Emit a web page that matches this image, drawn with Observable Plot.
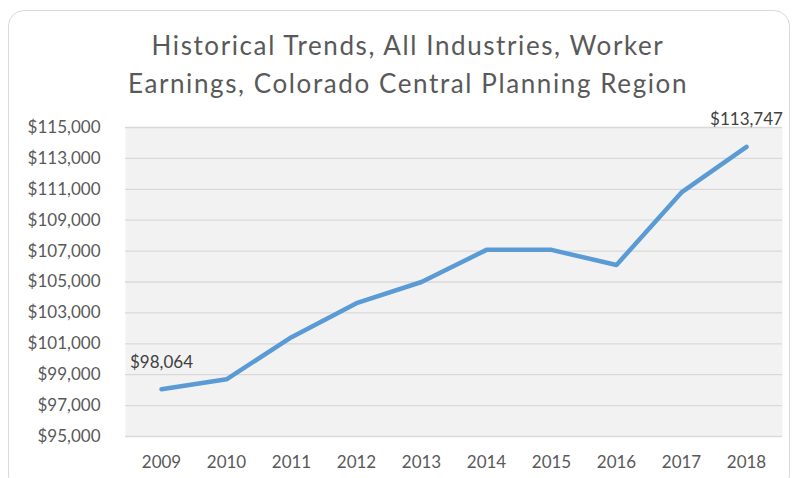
<!DOCTYPE html>
<html>
<head>
<meta charset="utf-8">
<script src="https://cdn.jsdelivr.net/npm/d3@7"></script>
<script src="https://cdn.jsdelivr.net/npm/@observablehq/plot@0.6"></script>
<style>
  html, body { margin: 0; padding: 0; background: #fff; }
  #wrap { position: relative; width: 793px; height: 478px; overflow: hidden; }
  #border { position: absolute; left: 8px; top: 10px; width: 780px; height: 480px;
            border: 1.5px solid #d9d9d9; border-radius: 16px; pointer-events: none; }
</style>
</head>
<body>
<div id="wrap"><div id="border"></div></div>
<script>
const years = ["2009","2010","2011","2012","2013","2014","2015","2016","2017","2018"];
const earnings = [98064, 98700, 101430, 103630, 105000, 107080, 107080, 106100, 110800, 113747];
const yTicks = [95000, 97000, 99000, 101000, 103000, 105000, 107000, 109000, 111000, 113000, 115000];
const titleLines = ["Historical Trends, All Industries, Worker", "Earnings, Colorado Central Planning Region"];
const labeledYears = ["2009", "2018"];

const data = years.map((y, i) => ({year: y, value: earnings[i]}));
const labeled = data.filter(d => labeledYears.includes(d.year));
const fmt = d3.format("$,");

const chart = Plot.plot({
  width: 793,
  height: 478,
  marginLeft: 125,
  marginRight: 11,
  marginTop: 127,
  marginBottom: 42,
  style: {fontFamily: "Lato, sans-serif", fontSize: "17px", color: "#595959", background: "transparent"},
  x: {type: "point", domain: years, padding: 0.5},
  y: {domain: [95000, 115000]},
  marks: [
    Plot.frame({fill: "#f2f2f2", stroke: null}),
    Plot.ruleY(yTicks, {stroke: "#d9d9d9", strokeWidth: 1.3}),
    Plot.axisY({ticks: yTicks, tickFormat: fmt, tickSize: 0, tickPadding: 25, label: null, fill: "#595959"}),
    Plot.axisX({tickSize: 0, tickPadding: 19, label: null, fill: "#595959"}),
    Plot.line(data, {x: "year", y: "value", stroke: "#5b9bd5", strokeWidth: 4.5, strokeLinecap: "round", strokeLinejoin: "round"}),
    Plot.text(labeled, {x: "year", y: "value", text: d => fmt(d.value), dy: -27, fill: "#404040", fontSize: 17}),
    Plot.text([titleLines[0]], {frameAnchor: "top", lineAnchor: "middle", dx: -46, dy: -81, fontSize: 26, fill: "#595959", style: "letter-spacing:1.6px"}),
    Plot.text([titleLines[1]], {frameAnchor: "top", lineAnchor: "middle", dx: -46, dy: -42.6, fontSize: 26, fill: "#595959"})
  ]
});
chart.querySelectorAll("text").forEach(t => {
  if (t.textContent === titleLines[0] || t.textContent === titleLines[1]) t.setAttribute("letter-spacing", "1.6");
});
document.getElementById("wrap").prepend(chart);
</script>
</body>
</html>
